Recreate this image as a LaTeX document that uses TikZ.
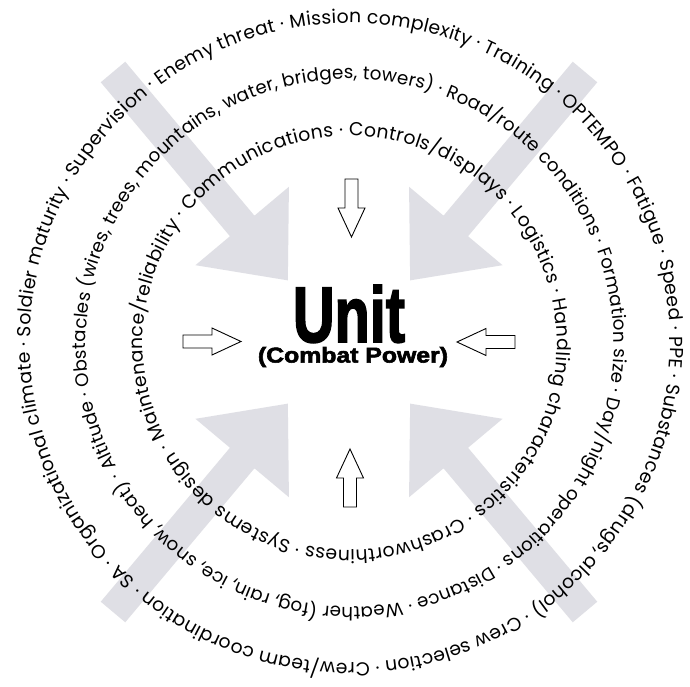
\documentclass[tikz,border=0pt]{standalone}
\usepackage{fontspec}
\usepackage{graphicx}
\usetikzlibrary{decorations.text}
\newfontfamily\ringfont{Poppins}
\newfontfamily\unitfont{Liberation Sans}[UprightFont=* Bold, FakeBold=2.5]
\definecolor{arrowgray}{RGB}{223,223,229}
\tikzset{
  bigarrow/.style={fill=arrowgray, draw=none},
  smallarrow/.style={draw=black, fill=white, line width=0.9pt, line join=miter},
  ringtext/.style={decorate, decoration={text along path, text align=fit to path, text={#1}}}
}
\newcommand{\rfa}{|\ringfont\fontsize{18.8}{22}\selectfont|}
\newcommand{\rfb}{|\ringfont\fontsize{18.3}{22}\selectfont|}
\begin{document}
\begin{tikzpicture}[x=1pt,y=1pt]
\useasboundingbox (-349,-344) rectangle (341,342);
\fill[white] (-349,-344) rectangle (341,342);
% big gray arrows
\foreach \sx/\sy/\ang in {-236/270/-50, 236/270/-130, -236/-270/50, 236/-270/130}
  \fill[bigarrow, shift={(\sx,\sy)}, rotate=\ang] (0,-16) -- (201,-16) -- (201,-61) -- (272,0) -- (201,61) -- (201,16) -- (0,16) -- cycle;
% small outlined arrows
\foreach \sx/\sy/\ang in {2.5/163/-90, 1/-165/90, -166/0.5/0, 166/0/180}
  \draw[smallarrow, shift={(\sx,\sy)}, rotate=\ang] (0,-6.5) -- (29,-6.5) -- (29,-13.5) -- (58,0) -- (29,13.5) -- (29,6.5) -- (0,6.5) -- cycle;
% rings
\coordinate (c) at (1,-1);
\path[ringtext={\rfa SA · Organizational climate · Soldier maturity · Supervision · Enemy threat · Mission complexity · Training · OPTEMPO · Fatigue · Speed · PPE · Substances (drugs, alcohol) · Crew selection · Crew/team coordination ·}]
  (c) ++(228:320) arc[start angle=228, end angle=-130.8, radius=320];
\path[ringtext={\rfb Altitude · Obstacles (wires, trees, mountains, water, bridges, towers) · Road/route conditions · Formation size · Day/night operations · Distance · Weather (fog, rain, ice, snow, heat) ·}]
  (c) ++(208:264) arc[start angle=208, end angle=-150.5, radius=264];
\path[ringtext={\rfa Maintenance/reliability · Communications · Controls/displays · Logistics · Handling characteristics · Crashworthiness · Systems design ·}]
  (c) ++(207:207) arc[start angle=207, end angle=-151, radius=207];
% centre text
\node[anchor=base, inner sep=0] (unit) at (0,0) {\resizebox{112pt}{57pt}{\unitfont Unit}};
\node[inner sep=0] (combat) at (4,-15) {\resizebox*{190pt}{20pt}{\unitfont (Combat Power)}};
\end{tikzpicture}
\end{document}
